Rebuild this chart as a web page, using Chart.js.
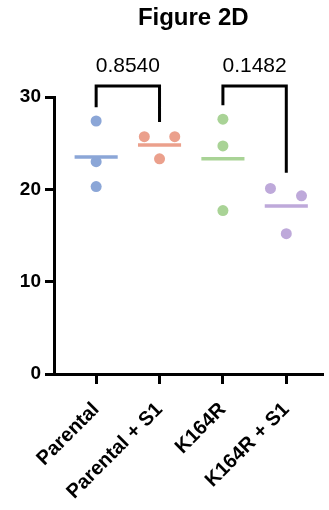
<!DOCTYPE html>
<html>
<head>
<meta charset="utf-8">
<script src="https://cdn.jsdelivr.net/npm/chart.js@4"></script>
<style>
html,body{margin:0;padding:0;background:#fff;}
#wrap{width:329px;height:510px;}
</style>
</head>
<body>
<div id="wrap"><canvas id="c" width="329" height="510"></canvas></div>
<script>
// ---- data ----
const title = "Figure 2D";
const categories = ["Parental", "Parental + S1", "K164R", "K164R + S1"];
const parental      = [27.4, 23.0, 20.3];
const parentalS1    = [25.7, 25.7, 23.3];
const k164r         = [27.6, 24.7, 17.7];
const k164rS1       = [20.1, 19.3, 15.2];
const jitter = [
  [0, 0, 0],
  [-0.24, 0.24, 0],
  [0, 0, 0],
  [-0.25, 0.24, 0]
];
const means = [23.5, 24.8, 23.3, 18.2];
const colors = ["#8ba6d7", "#eba08c", "#a9d396", "#bea9da"];
const yTicks = [0, 10, 20, 30];
// comparisons: [groupA, groupB, legA bottom, legB bottom, bar top, label]
const compA = [0, 1, 28.9, 27.3, 31.2, "0.8540"];
const compB = [2, 3, 29.1, 21.8, 31.2, "0.1482"];

const groups = [parental, parentalS1, k164r, k164rS1];
const datasets = [];
groups.forEach((vals, g) => {
  datasets.push({
    type: 'scatter',
    data: vals.map((v, i) => ({x: g + jitter[g][i], y: v})),
    backgroundColor: colors[g],
    borderColor: colors[g],
    pointRadius: 5.5,
    pointHoverRadius: 5.5,
    borderWidth: 0,
    clip: false,
    order: 2
  });
  datasets.push({
    type: 'line',
    data: [{x: g - 0.34, y: means[g]}, {x: g + 0.34, y: means[g]}],
    borderColor: colors[g],
    borderWidth: 3.5,
    pointRadius: 0,
    fill: false,
    clip: false,
    order: 1
  });
});
[compA, compB].forEach(c => {
  datasets.push({
    type: 'line',
    data: [{x: c[0], y: c[2]}, {x: c[0], y: c[4]}, {x: c[1], y: c[4]}, {x: c[1], y: c[3]}],
    borderColor: '#000',
    borderWidth: 3,
    pointRadius: 0,
    fill: false,
    clip: false,
    borderJoinStyle: 'miter',
    borderCapStyle: 'butt',
    order: 0
  });
});

const textPlugin = {
  id: 'texts',
  afterDraw(chart) {
    const ctx = chart.ctx;
    const xs = chart.scales.x, ys = chart.scales.y;
    ctx.save();
    ctx.fillStyle = '#000';
    ctx.textAlign = 'center';
    ctx.textBaseline = 'alphabetic';
    ctx.font = 'bold 24px "Liberation Sans", Arial, sans-serif';
    ctx.fillText(title, xs.getPixelForValue(1.5) + 2, 25);
    ctx.font = '21px "Liberation Sans", Arial, sans-serif';
    [compA, compB].forEach(c => {
      const cx = (xs.getPixelForValue(c[0]) + xs.getPixelForValue(c[1])) / 2;
      ctx.fillText(c[5], cx, ys.getPixelForValue(c[4]) - 14);
    });
    ctx.restore();
  }
};

new Chart(document.getElementById('c'), {
  data: { datasets },
  options: {
    responsive: false,
    animation: false,
    events: [],
    layout: { padding: { top: 97, right: 0, left: 0, bottom: 0 } },
    plugins: { legend: { display: false }, tooltip: { enabled: false }, title: { display: false } },
    scales: {
      x: {
        type: 'linear',
        min: -0.665,
        max: 3.587,
        afterBuildTicks: s => { s.ticks = categories.map((_, i) => ({value: i})); },
        afterFit: s => { s.height = 136; },
        grid: { display: true, drawOnChartArea: false, drawTicks: true, tickLength: 10, tickWidth: 3, tickColor: '#000' },
        border: { display: true, width: 3, color: '#000' },
        ticks: {
          autoSkip: false,
          minRotation: 45,
          maxRotation: 45,
          padding: 14,
          color: '#000',
          font: { family: '"Liberation Sans", Arial, sans-serif', size: 20, weight: 'bold' },
          callback: v => categories[v]
        }
      },
      y: {
        type: 'linear',
        min: 0,
        max: 30,
        afterBuildTicks: s => { s.ticks = yTicks.map(v => ({value: v})); },
        afterFit: s => { s.width = 54; },
        grid: { display: true, drawOnChartArea: false, drawTicks: true, tickLength: 9, tickWidth: 3, tickColor: '#000' },
        border: { display: true, width: 3, color: '#000' },
        ticks: {
          padding: 4,
          color: '#000',
          font: { family: '"Liberation Sans", Arial, sans-serif', size: 19, weight: 'bold' }
        }
      }
    }
  },
  plugins: [textPlugin]
});
</script>
</body>
</html>
